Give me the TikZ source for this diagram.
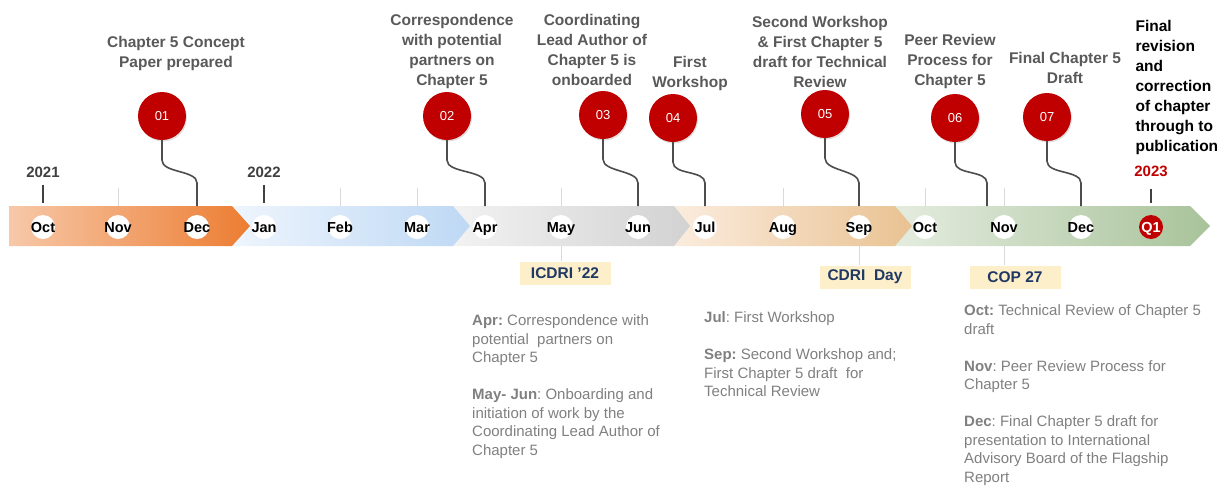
\documentclass[tikz,border=0pt]{standalone}
\usepackage{fontspec}
\setmainfont{Liberation Sans}
\usetikzlibrary{shadows}
\frenchspacing

\definecolor{milered}{HTML}{C00000}
\definecolor{titlegrey}{HTML}{595959}
\definecolor{descgrey}{HTML}{808080}
\definecolor{yeargrey}{HTML}{404040}
\definecolor{leadgrey}{HTML}{4D4D4D}
\definecolor{evnavy}{HTML}{1F3864}
\definecolor{evyellow}{HTML}{FCEFC9}

\newcommand{\mlab}[1]{\makebox[0pt]{#1}}

\tikzset{
  month/.style={circle, fill=white, minimum size=24pt, inner sep=0pt, text height=10.5pt, text depth=0pt, font=\bfseries\fontsize{14.5}{14.5}\selectfont},
  mile/.style={circle, fill=milered, minimum size=48pt, inner sep=0pt, text=white, font=\fontsize{13}{13}\selectfont, drop shadow={opacity=0.25, shadow xshift=1pt, shadow yshift=-1.5pt}},
  title/.style={align=center, text=titlegrey, font=\bfseries\fontsize{15.5}{20}\selectfont},
  year/.style={text=yeargrey, font=\bfseries\fontsize{15}{15}\selectfont},
  event/.style={fill=evyellow, text=evnavy, minimum width=91pt, minimum height=23pt, inner sep=0pt, font=\bfseries\fontsize{15.5}{15.5}\selectfont},
  desc/.style={align=left, anchor=north west, inner sep=0pt, text=descgrey, font=\fontsize{15}{18.5}\selectfont},
  lead/.style={draw=leadgrey, line width=1.6pt},
  tick/.style={draw=black!15, line width=0.6pt},
  yeartick/.style={draw=yeargrey, line width=1.6pt},
}

\begin{document}
\begin{tikzpicture}[x=1pt,y=1pt,yscale=-1,xscale=1]
\useasboundingbox (0,0) rectangle (1227,485);

%Bar segments, right to left so each tip lies on the next one
\path[left color={rgb,255:red,228;green,236;blue,223}, right color={rgb,255:red,168;green,195;blue,154}]
  (895,206) -- (1190,206) -- (1210,226) -- (1190,246) -- (895,246) -- cycle;
\path[left color={rgb,255:red,251;green,236;blue,222}, right color={rgb,255:red,233;green,194;blue,146}]
  (674,206) -- (895,206) -- (912,226) -- (895,246) -- (674,246) -- cycle;
\path[left color={rgb,255:red,242;green,242;blue,242}, right color={rgb,255:red,210;green,210;blue,210}]
  (453,206) -- (674,206) -- (690,226) -- (674,246) -- (453,246) -- cycle;
\path[left color={rgb,255:red,238;green,245;blue,253}, right color={rgb,255:red,190;green,216;blue,244}]
  (232,206) -- (453,206) -- (470,226) -- (453,246) -- (232,246) -- cycle;
\path[left color={rgb,255:red,247;green,200;blue,168}, right color={rgb,255:red,236;green,125;blue,50}]
  (9,206) -- (232,206) -- (250,226) -- (232,246) -- (9,246) -- cycle;

\coordinate (bartop) at (0,206);
\coordinate (barbot) at (0,246);
\coordinate (p06) at (987,226);

% Month Nodes
\node[month] (oct1) at (43,227) {\mlab{Oct}};
\node[month] (nov1) at (118,227) {\mlab{Nov}};
\node[month] (dec1) at (197,227) {\mlab{Dec}};
\node[month] (jan) at (264,227) {\mlab{Jan}};
\node[month] (feb) at (340,227) {\mlab{Feb}};
\node[month] (mar) at (417,227) {\mlab{Mar}};
\node[month] (apr) at (485,227) {\mlab{Apr}};
\node[month] (may) at (561,227) {\mlab{May}};
\node[month] (jun) at (638,227) {\mlab{Jun}};
\node[month] (jul) at (705,227) {\mlab{Jul}};
\node[month] (aug) at (783,227) {\mlab{Aug}};
\node[month] (sep) at (859,227) {\mlab{Sep}};
\node[month] (oct2) at (925,227) {\mlab{Oct}};
\node[month] (nov2) at (1004,227) {\mlab{Nov}};
\node[month] (dec2) at (1081,227) {\mlab{Dec}};
\node[month, fill=milered, text=white] (q1) at (1151,227) {\mlab{Q1}};

%Light ticks
\foreach \mo in {nov1,feb,mar,may,aug,oct2,nov2}
  \draw[tick] (\mo |- 0,188) -- (\mo |- bartop);

% Year Nodes
\node[year] (y2021) at (43,172) {2021};
\node[year] (y2022) at (264,172) {2022};
\node[year, text=milered] (y2023) at (1151,171) {2023};
\draw[yeartick, shorten <=4pt, shorten >=3pt] (y2021.south) -- (y2021 |- bartop);
\draw[yeartick, shorten <=4pt, shorten >=3pt] (y2022.south) -- (y2022 |- bartop);
\draw[yeartick, shorten <=9pt, shorten >=3pt] (y2023.south) -- (y2023 |- bartop);

% Milestone Nodes
\node[mile] (m01) at (162,116) {01};
\node[mile] (m02) at (447,116) {02};
\node[mile] (m03) at (603,115) {03};
\node[mile] (m04) at (673,118) {04};
\node[mile] (m05) at (825,114) {05};
\node[mile] (m06) at (955,118) {06};
\node[mile] (m07) at (1047,117) {07};

%Curved leads
\foreach \m/\e in {m01/dec1,m02/apr,m03/jun,m04/jul,m05/sep,m06/p06,m07/dec2}
  \draw[lead] (\m.south) -- ++(0,20) .. controls +(0,13) and +(0,-13) .. (\e |- 0,183) -- (\e |- bartop);

% Text Node
\node[title] (t01) at (176,53) {Chapter 5 Concept\\Paper prepared};
\node[title] (t02) at (452,51) {Correspondence\\with potential\\partners on\\Chapter 5};
\node[title] (t03) at (592,50) {Coordinating\\Lead Author of\\Chapter 5 is\\onboarded};
\node[title] (t04) at (690,73) {First\\Workshop};
\node[title] (t05) at (820,52) {Second Workshop\\\& First Chapter 5\\draft for Technical\\Review};
\node[title] (t06) at (950,61) {Peer Review\\Process for\\Chapter 5};
\node[title] (t07) at (1065,68) {Final Chapter 5\\Draft};
\node[title, text=black, align=left, anchor=west] (tfin) at (1132,87) {Final\\revision\\and\\correction\\of chapter\\through to\\publication};

% Event Nodes
\node[event] (ev1) at (565,273) {ICDRI ’22};
\node[event] (ev2) at (865,277) {CDRI\ \ Day};
\node[event] (ev3) at (1015,277) {COP 27};
\draw[tick] (may |- barbot) -- (may |- ev1.north);
\draw[tick] (sep |- barbot) -- (sep |- ev2.north);
\draw[tick] (nov2 |- barbot) -- (nov2 |- ev3.north);

% Description Nodes
\node[desc] (dA) at (472,314.5) {\textbf{Apr:} Correspondence with\\potential\ \ partners on\\Chapter 5\\[18.5pt]\textbf{May- Jun}: Onboarding and\\initiation of work by the\\Coordinating Lead Author of\\Chapter 5};
\node[desc] (dB) at (704,311.5) {\textbf{Jul}: First Workshop\\[18.5pt]\textbf{Sep:} Second Workshop and;\\First Chapter 5 draft\ \ for\\Technical Review};
\node[desc] (dC) at (964,304.5) {\textbf{Oct:} Technical Review of Chapter 5\\draft\\[18.5pt]\textbf{Nov}: Peer Review Process for\\Chapter 5\\[18.5pt]\textbf{Dec}: Final Chapter 5 draft for\\presentation to International\\Advisory Board of the Flagship\\Report};

\end{tikzpicture}
\end{document}
